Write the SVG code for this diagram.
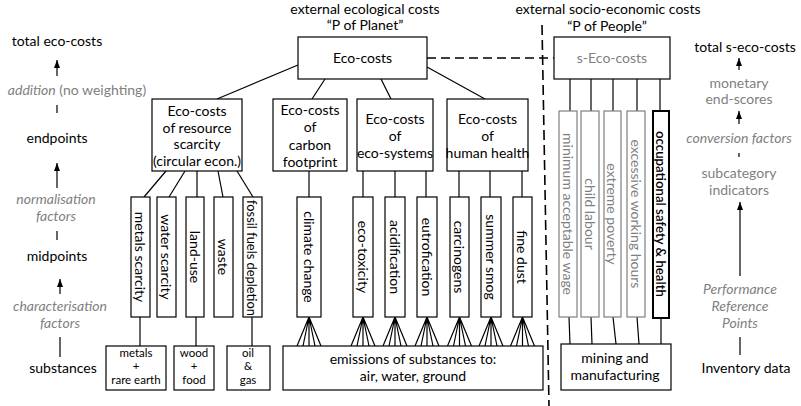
<svg xmlns="http://www.w3.org/2000/svg" width="801" height="406" viewBox="0 0 801 406">
<defs>
<style>
text{font-family:Lato,'Open Sans',sans-serif;font-size:14px;fill:#000;text-anchor:middle}
.g{fill:#7f7f7f}
.i{font-style:italic}
.v{dominant-baseline:central}
.s{font-size:11.5px}
rect{fill:#fff;stroke:#000;stroke-width:1.2}
rect.gs{stroke:#7f7f7f}
rect.thick{stroke-width:2}
line,path{stroke:#000;stroke-width:1.2;fill:none}
.dash{stroke-dasharray:9 5;stroke-width:1.3}
.vdash{stroke-dasharray:10 5;stroke-width:1.6}
</style>
<marker id="ah" viewBox="0 0 8 6" refX="8" refY="3" markerWidth="8" markerHeight="6" markerUnits="userSpaceOnUse" orient="auto">
<path d="M0,0 L8,3 L0,6 Z" style="fill:#000;stroke:none"/>
</marker>
</defs>
<rect x="0" y="0" width="801" height="406" style="stroke:none;fill:#fff"/>

<g id="headers">
<text x="365" y="14">external ecological costs</text>
<text x="365" y="30">“P of Planet”</text>
<text x="608" y="14">external socio-economic costs</text>
<text x="607" y="31">“P of People”</text>
</g>

<g id="left-scale">
<text x="57" y="46">total eco-costs</text>
<line x1="57" y1="76" x2="57" y2="60" marker-end="url(#ah)"/>
<text x="77" y="95" class="g"><tspan class="i">addition</tspan> (no weighting)</text>
<line x1="57" y1="105" x2="57" y2="113"/>
<text x="57" y="143">endpoints</text>
<line x1="57" y1="188" x2="57" y2="163" marker-end="url(#ah)"/>
<text x="56" y="204" class="g i">normalisation</text>
<text x="56" y="221" class="g i">factors</text>
<line x1="57" y1="231" x2="57" y2="240"/>
<text x="57" y="261">midpoints</text>
<line x1="60" y1="294" x2="60" y2="279" marker-end="url(#ah)"/>
<text x="60" y="311" class="g i">characterisation</text>
<text x="60" y="328" class="g i">factors</text>
<line x1="60" y1="337" x2="60" y2="357"/>
<text x="63" y="373">substances</text>
</g>

<g id="right-scale">
<text x="745" y="52">total s-eco-costs</text>
<line x1="739" y1="70" x2="739" y2="58" marker-end="url(#ah)"/>
<text x="739" y="88" class="g">monetary</text>
<text x="739" y="104" class="g">end-scores</text>
<line x1="739" y1="124" x2="739" y2="111" marker-end="url(#ah)"/>
<text x="739" y="143" class="g i">conversion factors</text>
<line x1="739" y1="153" x2="739" y2="157"/>
<text x="739" y="178" class="g">subcategory</text>
<text x="739" y="195" class="g">indicators</text>
<line x1="740" y1="276" x2="740" y2="202" marker-end="url(#ah)"/>
<text x="740" y="294" class="g i">Performance</text>
<text x="740" y="311" class="g i">Reference</text>
<text x="740" y="328" class="g i">Points</text>
<line x1="740" y1="337" x2="740" y2="355"/>
<text x="746" y="373">Inventory data</text>
</g>

<g id="connectors">
<line class="dash" x1="427" y1="58" x2="554" y2="58"/>
<line class="vdash" x1="542" y1="25" x2="549" y2="406"/>
<line x1="298" y1="65" x2="217" y2="99"/>
<line x1="325" y1="79" x2="312" y2="99"/>
<line x1="381" y1="79" x2="391" y2="99"/>
<line x1="427" y1="67" x2="485" y2="99"/>
<line x1="166" y1="171" x2="144" y2="197"/>
<line x1="185" y1="171" x2="169" y2="197"/>
<line x1="197" y1="171" x2="197" y2="197"/>
<line x1="218" y1="171" x2="223" y2="197"/>
<line x1="237" y1="171" x2="253" y2="197"/>
<line x1="309" y1="171" x2="309" y2="197"/>
<line x1="363" y1="171" x2="363" y2="197"/>
<line x1="395" y1="171" x2="395" y2="197"/>
<line x1="426" y1="171" x2="426" y2="197"/>
<line x1="459" y1="171" x2="459" y2="197"/>
<line x1="490" y1="171" x2="490" y2="197"/>
<line x1="522" y1="171" x2="522" y2="197"/>
<line x1="140" y1="317" x2="140" y2="346"/>
<line x1="196" y1="317" x2="196" y2="346"/>
<line x1="252" y1="317" x2="252" y2="346"/>
<path d="M309,317 L297,346 M309,317 L303,346 M309,317 L309,346 M309,317 L315,346 M309,317 L321,346"/>
<path d="M363,317 L351,346 M363,317 L357,346 M363,317 L363,346 M363,317 L369,346 M363,317 L375,346"/>
<path d="M395,317 L383,346 M395,317 L389,346 M395,317 L395,346 M395,317 L401,346 M395,317 L407,346"/>
<path d="M427,317 L415,346 M427,317 L421,346 M427,317 L427,346 M427,317 L433,346 M427,317 L439,346"/>
<path d="M459.5,317 L447.5,346 M459.5,317 L453.5,346 M459.5,317 L459.5,346 M459.5,317 L465.5,346 M459.5,317 L471.5,346"/>
<path d="M491,317 L479,346 M491,317 L485,346 M491,317 L491,346 M491,317 L497,346 M491,317 L503,346"/>
<path d="M522.5,317 L510.5,346 M522.5,317 L516.5,346 M522.5,317 L522.5,346 M522.5,317 L528.5,346 M522.5,317 L534.5,346"/>
<line x1="570" y1="79" x2="570" y2="111"/>
<line x1="591" y1="79" x2="591" y2="111"/>
<line x1="613" y1="79" x2="613" y2="111"/>
<line x1="637" y1="79" x2="637" y2="111"/>
<line x1="660" y1="79" x2="660" y2="111"/>
<line x1="569" y1="317" x2="570" y2="344"/>
<line x1="591" y1="317" x2="592" y2="344"/>
<line x1="613" y1="317" x2="616" y2="344"/>
<line x1="637" y1="317" x2="639" y2="344"/>
<line x1="661" y1="318" x2="661" y2="344"/>
</g>

<g id="eco-costs"><rect x="298" y="37" width="129" height="42"/><text x="362.5" y="63">Eco-costs</text></g>
<g id="s-eco-costs"><rect x="554" y="37" width="116" height="42"/><text x="612" y="63" class="g">s-Eco-costs</text></g>

<g id="resource-scarcity"><rect x="152" y="99" width="90" height="72"/>
<text x="197" y="116">Eco-costs</text><text x="197" y="133">of resource</text><text x="197" y="149">scarcity</text><text x="197" y="166">(circular econ.)</text></g>
<g id="carbon-footprint"><rect x="273" y="99" width="74" height="72"/>
<text x="310" y="115">Eco-costs</text><text x="310" y="132">of</text><text x="310" y="150">carbon</text><text x="310" y="167">footprint</text></g>
<g id="eco-systems"><rect x="357" y="99" width="76" height="72"/>
<text x="395" y="124">Eco-costs</text><text x="395" y="141">of</text><text x="395" y="158">eco-systems</text></g>
<g id="human-health"><rect x="447" y="99" width="81" height="72"/>
<text x="487.5" y="124">Eco-costs</text><text x="487.5" y="141">of</text><text x="487.5" y="158">human health</text></g>

<g id="metals-scarcity"><rect x="131" y="197" width="19" height="120"/><text class="v" transform="translate(140.5,257) rotate(90)">metals scarcity</text></g>
<g id="water-scarcity"><rect x="157" y="197" width="19" height="120"/><text class="v" transform="translate(166.5,257) rotate(90)">water scarcity</text></g>
<g id="land-use"><rect x="186" y="197" width="18" height="120"/><text class="v" transform="translate(195,257) rotate(90)">land-use</text></g>
<g id="waste"><rect x="214" y="197" width="19" height="120"/><text class="v" transform="translate(223.5,257) rotate(90)">waste</text></g>
<g id="fossil-fuels"><rect x="243" y="197" width="19" height="120"/><text class="v" transform="translate(252.5,258) rotate(90)" textLength="116" lengthAdjust="spacingAndGlyphs">fossil fuels depletion</text></g>

<g id="climate-change"><rect x="297" y="197" width="24" height="120"/><text class="v" transform="translate(309,257) rotate(90)">climate change</text></g>
<g id="eco-toxicity"><rect x="353" y="197" width="20" height="120"/><text class="v" transform="translate(363,257) rotate(90)">eco-toxicity</text></g>
<g id="acidification"><rect x="385" y="197" width="20" height="120"/><text class="v" transform="translate(395,257) rotate(90)">acidification</text></g>
<g id="eutrofication"><rect x="417" y="197" width="20" height="120"/><text class="v" transform="translate(427,257) rotate(90)">eutrofication</text></g>
<g id="carcinogens"><rect x="450" y="197" width="19" height="120"/><text class="v" transform="translate(459.5,257) rotate(90)">carcinogens</text></g>
<g id="summer-smog"><rect x="481" y="197" width="20" height="120"/><text class="v" transform="translate(491,257) rotate(90)">summer smog</text></g>
<g id="fine-dust"><rect x="513" y="197" width="19" height="120"/><text class="v" transform="translate(522.5,257) rotate(90)">fine dust</text></g>

<g id="minimum-wage"><rect class="gs" x="559" y="111" width="18" height="206"/><text class="v g" transform="translate(568,214) rotate(90)">minimum acceptable wage</text></g>
<g id="child-labour"><rect class="gs" x="581" y="111" width="18" height="206"/><text class="v g" transform="translate(590,214) rotate(90)">child labour</text></g>
<g id="extreme-poverty"><rect class="gs" x="604" y="111" width="17" height="206"/><text class="v g" transform="translate(612.5,214) rotate(90)">extreme poverty</text></g>
<g id="excessive-hours"><rect class="gs" x="627" y="111" width="18" height="206"/><text class="v g" transform="translate(636,214) rotate(90)">excessive working hours</text></g>
<g id="occupational"><rect class="thick" x="653" y="111" width="16" height="207"/><text class="v" transform="translate(661,214) rotate(90)" style="font-weight:600" textLength="166" lengthAdjust="spacingAndGlyphs">occupational safety &amp; health</text></g>

<g id="metals-box"><rect x="106" y="346" width="60" height="44"/>
<text class="s" x="136" y="356.5">metals</text><text class="s" x="136" y="370.3">+</text><text class="s" x="136" y="384.1">rare earth</text></g>
<g id="wood-box"><rect x="174" y="346" width="40" height="44"/>
<text class="s" x="194" y="356.5">wood</text><text class="s" x="194" y="370.3">+</text><text class="s" x="194" y="384.1">food</text></g>
<g id="oil-box"><rect x="227" y="346" width="43" height="44"/>
<text class="s" x="248" y="356.5">oil</text><text class="s" x="248" y="370.3">&amp;</text><text class="s" x="248" y="384.1">gas</text></g>
<g id="emissions"><rect x="283" y="346" width="260" height="44"/>
<text x="413" y="364">emissions of substances to:</text><text x="413" y="381">air, water, ground</text></g>
<g id="mining"><rect x="561" y="344" width="110" height="46"/>
<text x="615" y="363">mining and</text><text x="615" y="380">manufacturing</text></g>
</svg>
